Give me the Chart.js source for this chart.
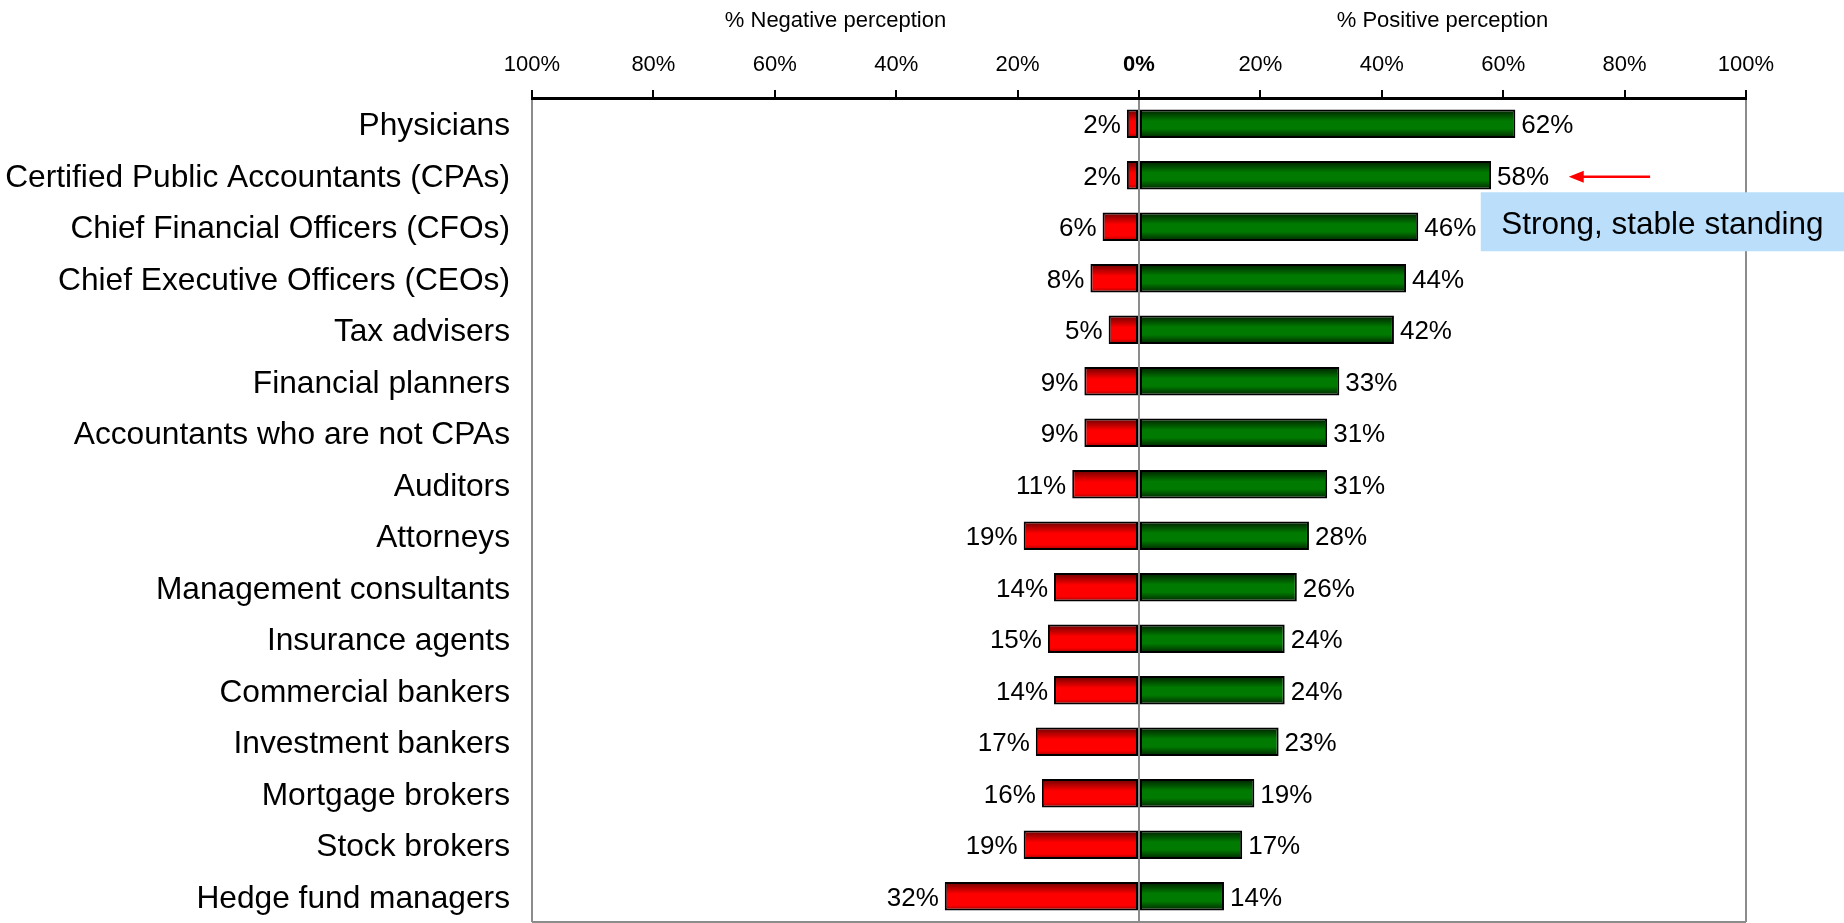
<!DOCTYPE html>
<html>
<head>
    <script src="https://cdn.jsdelivr.net/npm/chart.js"></script>
    <style>
        body {
            margin: 0;
            background-color: white;
            overflow: hidden;
        }

        .chart-box {
            width: 1844px;
            height: 923px;
        }
    </style>
</head>
<body>

    <div class="chart-box">
        <canvas id="perceptionChart"></canvas>
    </div>

    <script>
        // Professions, top to bottom
        const categories = [
            "Physicians",
            "Certified Public Accountants (CPAs)",
            "Chief Financial Officers (CFOs)",
            "Chief Executive Officers (CEOs)",
            "Tax advisers",
            "Financial planners",
            "Accountants who are not CPAs",
            "Auditors",
            "Attorneys",
            "Management consultants",
            "Insurance agents",
            "Commercial bankers",
            "Investment bankers",
            "Mortgage brokers",
            "Stock brokers",
            "Hedge fund managers"
        ];

        // % negative / % positive perception
        const negativeValues = [2, 2, 6, 8, 5, 9, 9, 11, 19, 14, 15, 14, 17, 16, 19, 32];
        const positiveValues = [62, 58, 46, 44, 42, 33, 31, 31, 28, 26, 24, 24, 23, 19, 17, 14];

        const tickValues = [-100, -80, -60, -40, -20, 0, 20, 40, 60, 80, 100];
        const axisTitles = ["% Negative perception", "% Positive perception"];
        const calloutText = "Strong, stable standing";

        const FONT = "Arial, 'Liberation Sans', sans-serif";
        const BAR_PCT = 0.55;

        // vertical gradient for each bar (dark edges, bright middle)
        function barGradient(ctx, stops) {
            const chart = ctx.chart;
            const yScale = chart.scales.y;
            if (!chart.chartArea || !yScale || ctx.dataIndex === undefined) return stops[1][1];
            const yc = yScale.getPixelForValue(ctx.dataIndex);
            const h = (yScale.height / categories.length) * BAR_PCT;
            const g = chart.ctx.createLinearGradient(0, yc - h / 2, 0, yc + h / 2);
            stops.forEach(s => g.addColorStop(s[0], s[1]));
            return g;
        }

        const redStops = [[0, "#6a0000"], [0.42, "#ff0000"], [0.82, "#ff0000"], [1, "#a00000"]];
        const greenStops = [[0, "#001e00"], [0.4, "#007a00"], [0.68, "#007a00"], [1, "#002400"]];

        // value labels at the bar ends
        const valueLabels = {
            id: "valueLabels",
            afterDatasetsDraw(chart) {
                const c = chart.ctx;
                c.save();
                c.font = "26px " + FONT;
                c.fillStyle = "#000";
                c.textBaseline = "middle";
                chart.data.datasets.forEach((ds, di) => {
                    const meta = chart.getDatasetMeta(di);
                    meta.data.forEach((bar, i) => {
                        const v = Math.abs(ds.data[i]);
                        if (di === 0) {
                            c.textAlign = "right";
                            c.fillText(v + "%", bar.x - 6, bar.y + 2.5);
                        } else {
                            c.textAlign = "left";
                            c.fillText(v + "%", bar.x + 6, bar.y + 2.5);
                        }
                    });
                });
                c.restore();
            }
        };

        // titles above each half, bottom border, callout
        const extras = {
            id: "extras",
            beforeDatasetsDraw(chart) {
                const c = chart.ctx;
                const a = chart.chartArea;
                c.save();
                c.strokeStyle = "#8c8c8c";
                c.lineWidth = 2;
                c.beginPath();
                c.moveTo(a.left, a.bottom);
                c.lineTo(a.right, a.bottom);
                c.stroke();
                c.restore();
            },
            afterDraw(chart) {
                const c = chart.ctx;
                const x = chart.scales.x;
                const y = chart.scales.y;
                c.save();
                c.font = "22px " + FONT;
                c.fillStyle = "#000";
                c.textAlign = "center";
                c.textBaseline = "middle";
                c.fillText(axisTitles[0], x.getPixelForValue(-50), 21);
                c.fillText(axisTitles[1], x.getPixelForValue(50), 21);

                // callout box
                const boxL = x.getPixelForValue(56.3);
                const boxT = y.getPixelForValue(1) + 17;
                const boxH = 59;
                c.fillStyle = "#bbdffb";
                c.fillRect(boxL, boxT, chart.width - boxL, boxH);
                c.fillStyle = "#000";
                c.font = "31.5px " + FONT;
                c.fillText(calloutText, (boxL + chart.width) / 2, boxT + boxH / 2 + 3.5);

                // red arrow pointing at CPAs
                const ay = y.getPixelForValue(1) + 1.5;
                const ax0 = x.getPixelForValue(70.8);
                const ax1 = x.getPixelForValue(84.2);
                c.strokeStyle = "#ff0000";
                c.fillStyle = "#ff0000";
                c.lineWidth = 2.5;
                c.beginPath();
                c.moveTo(ax1, ay);
                c.lineTo(ax0 + 12, ay);
                c.stroke();
                c.beginPath();
                c.moveTo(ax0, ay);
                c.lineTo(ax0 + 15, ay - 6);
                c.lineTo(ax0 + 15, ay + 6);
                c.closePath();
                c.fill();
                c.restore();
            }
        };

        const ctx = document.getElementById("perceptionChart").getContext("2d");
        const chart = new Chart(ctx, {
            type: "bar",
            data: {
                labels: categories,
                datasets: [
                    {
                        label: "Negative",
                        data: negativeValues.map(v => -v),
                        backgroundColor: c => barGradient(c, redStops),
                        borderColor: "#000",
                        borderWidth: 2,
                        borderSkipped: false,
                        barPercentage: BAR_PCT,
                        categoryPercentage: 1
                    },
                    {
                        label: "Positive",
                        data: positiveValues,
                        backgroundColor: c => barGradient(c, greenStops),
                        borderColor: "#000",
                        borderWidth: 2,
                        borderSkipped: false,
                        barPercentage: BAR_PCT,
                        categoryPercentage: 1
                    }
                ]
            },
            options: {
                indexAxis: "y",
                responsive: true,
                maintainAspectRatio: false,
                animation: false,
                layout: { padding: { left: 0, right: 98, top: 0, bottom: 1 } },
                plugins: {
                    legend: { display: false },
                    tooltip: { enabled: false }
                },
                scales: {
                    x: {
                        position: "top",
                        stacked: true,
                        min: -100,
                        max: 100,
                        afterFit: s => { s.height = 98; },
                        afterBuildTicks: s => { s.ticks = tickValues.map(v => ({ value: v })); },
                        ticks: {
                            color: "#000",
                            padding: 12,
                            maxRotation: 0,
                            callback: v => Math.abs(v) + "%",
                            font: c => ({
                                family: FONT,
                                size: 22,
                                weight: c.tick && c.tick.value === 0 ? "bold" : "normal"
                            })
                        },
                        grid: {
                            color: c => (c.tick && Math.abs(c.tick.value) % 100 === 0) ? "#8c8c8c" : "rgba(0,0,0,0)",
                            lineWidth: 2,
                            tickColor: "#000",
                            tickWidth: 2,
                            tickLength: 8
                        },
                        border: { display: true, color: "#000", width: 3 }
                    },
                    y: {
                        stacked: true,
                        afterFit: s => {
                            s.width = 532;
                            s.paddingTop = 0;
                            s.paddingBottom = 0;
                        },
                        ticks: {
                            color: "#000",
                            padding: 22,
                            labelOffset: 3,
                            font: { family: FONT, size: 31.7 }
                        },
                        grid: { display: false, drawTicks: false },
                        border: { display: false }
                    }
                }
            },
            plugins: [valueLabels, extras]
        });
    </script>

</body>
</html>
